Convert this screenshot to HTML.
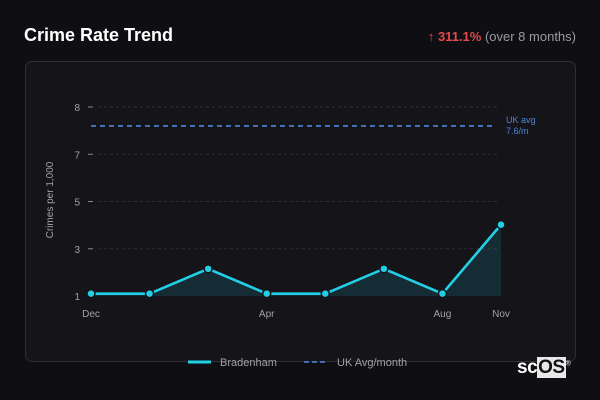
<!DOCTYPE html>
<html><head><meta charset="utf-8"><style>
body{margin:0;width:600px;height:400px;background:#0f0f13;font-family:"Liberation Sans","DejaVu Sans",sans-serif;overflow:hidden;position:relative}
.t{position:absolute;left:24px;top:25px;color:#fff;font-weight:bold;font-size:18px}
.chg{position:absolute;right:24px;top:29px;font-size:13px;color:#9a9aa0}
.chg b{color:#e5484d}
.panel{position:absolute;left:25px;top:61px;width:549px;height:299px;border:1px solid #2e2e34;border-radius:7px;background:#141419}
svg{position:absolute;left:0;top:0}
.logo{position:absolute;left:517px;top:357px;color:#fff;font-weight:bold;font-size:19px;letter-spacing:-0.5px}
.logo span{background:#e8e8e8;color:#111;padding:0 1px}
</style></head><body>
<div class="t">Crime Rate Trend</div>
<div class="chg"><b>↑ 311.1%</b> (over 8 months)</div>
<div class="panel"></div>
<svg id="c" width="600" height="400"></svg>
<div class="logo">sc<span>OS</span><sup style="font-size:7px;font-weight:normal">®</sup></div>
<script>
const categories=['Dec','Jan','Feb','Apr','May','Jun','Aug','Nov'];
const tickLabels=['Dec','','','Apr','','','Aug','Nov'];
const values=[1.1,1.1,2.15,1.1,1.1,2.15,1.1,4.02];
const yTicks=[1,3,5,7,8];
const ukAvg=7.6;
const NS='http://www.w3.org/2000/svg';
const svg=document.getElementById('c');
const x0=91,x1=501,yBot=296,yStep=47.25;
function xs(i){return x0+(x1-x0)*i/(categories.length-1);}
function ys(v){
  for(let k=0;k<yTicks.length-1;k++){
    if(v<=yTicks[k+1]||k===yTicks.length-2){
      const f=(v-yTicks[k])/(yTicks[k+1]-yTicks[k]);
      return yBot-(k+f)*yStep;}
  }
}
function mk(t,a,txt){const e=document.createElementNS(NS,t);for(const k in a)e.setAttribute(k,a[k]);if(txt!==undefined)e.textContent=txt;svg.appendChild(e);return e;}
yTicks.forEach(v=>{
  const y=ys(v);
  if(v!==1){const g=mk('line',{x1:98,x2:500,y1:y,y2:y,stroke:'#2f2f35','stroke-dasharray':'3,3'});
  
  }
  mk('line',{x1:88,x2:93,y1:y,y2:y,stroke:'#888'});
  const t=mk('text',{x:80,y:y+4,fill:'#a0a0a6','font-size':10,'text-anchor':'end'},v);
  
  
});
tickLabels.forEach((l,i)=>{if(!l)return;
  const t=mk('text',{x:xs(i),y:317,fill:'#a0a0a6','font-size':10,'text-anchor':'middle'},l);
  
  
});
const yt=mk('text',{transform:'translate(53,200) rotate(-90)',fill:'#a0a0a6','font-size':10,'text-anchor':'middle'},'Crimes per 1,000');


const ya=ys(ukAvg);
const ul=mk('line',{x1:91,x2:496,y1:ya,y2:ya,stroke:'#4f86d9','stroke-width':1.6,'stroke-dasharray':'5,4'});


const u1=mk('text',{x:506,y:ya-3,fill:'#4f86d9','font-size':9},'UK avg');


mk('text',{x:506,y:ya+8,fill:'#4f86d9','font-size':9},ukAvg+'/m');
let d=values.map((v,i)=>(i?'L':'M')+xs(i)+','+ys(v)).join(' ');
const area=mk('path',{d:d+' L'+xs(values.length-1)+','+yBot+' L'+x0+','+yBot+' Z',fill:'#22d3ee',opacity:0.13});


const ln=mk('path',{d:d,fill:'none',stroke:'#22cfe6','stroke-width':2.6,'stroke-linejoin':'round'});


values.forEach((v,i)=>{
  const c=mk('circle',{cx:xs(i),cy:ys(v),r:4,fill:'#22cfe6',stroke:'#141419','stroke-width':1.5});
  
  
});
const l1=mk('line',{x1:188,x2:211,y1:362,y2:362,stroke:'#22cfe6','stroke-width':3});


mk('text',{x:220,y:366,fill:'#a0a0a6','font-size':11},'Bradenham');
const l2=mk('line',{x1:304,x2:328,y1:362,y2:362,stroke:'#4f86d9','stroke-width':1.6,'stroke-dasharray':'5,3'});


mk('text',{x:337,y:366,fill:'#a0a0a6','font-size':11},'UK Avg/month');
</script>
</body></html>
